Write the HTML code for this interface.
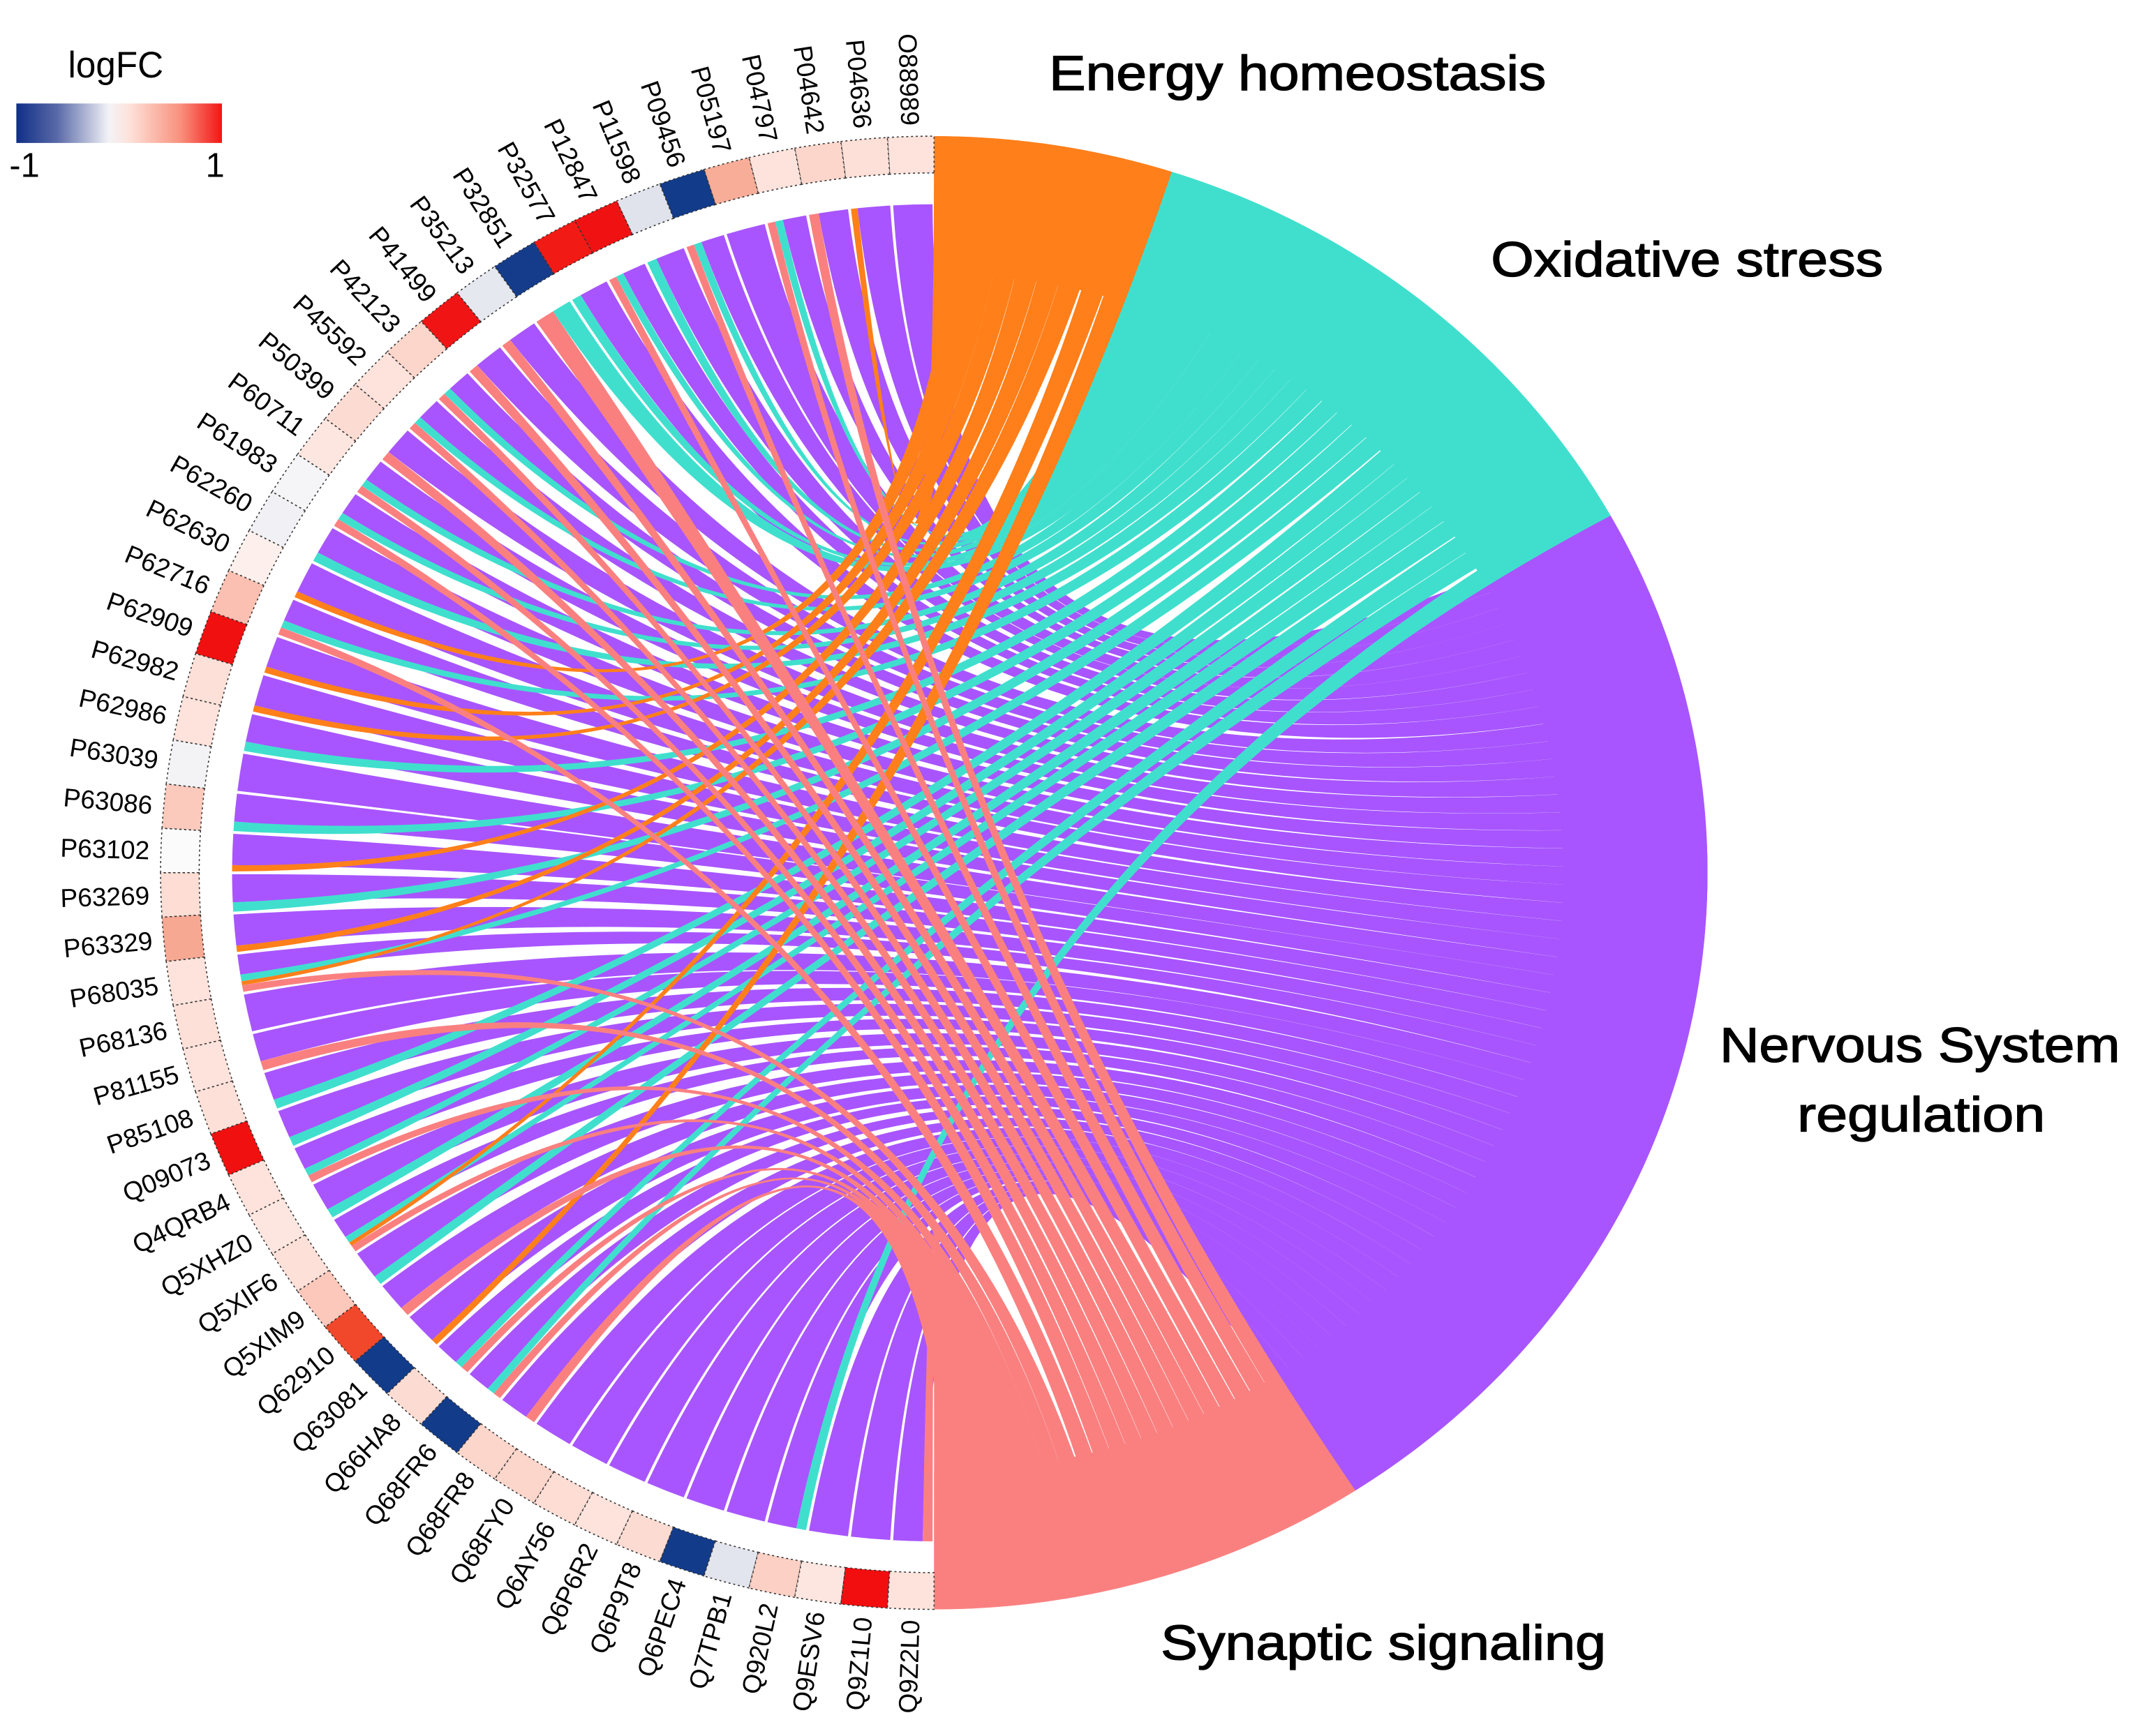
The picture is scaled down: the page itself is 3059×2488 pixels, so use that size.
<!DOCTYPE html>
<html><head><meta charset="utf-8"><style>
html,body{margin:0;padding:0;background:#fff;}
svg{display:block;}
text{font-family:"Liberation Sans",sans-serif;}
</style></head><body>
<svg id="s" xmlns="http://www.w3.org/2000/svg" width="3059" height="2488" viewBox="0 0 1568 1275" preserveAspectRatio="none">
<defs>
<linearGradient id="lg" x1="0" x2="1" y1="0" y2="0">
<stop offset="0" stop-color="#0f2f86"/>
<stop offset="0.2" stop-color="#5a6aa8"/>
<stop offset="0.45" stop-color="#f3f3f7"/>
<stop offset="0.55" stop-color="#fde2da"/>
<stop offset="0.8" stop-color="#f8907c"/>
<stop offset="1" stop-color="#f31515"/>
</linearGradient>
</defs>
<g id="chords"></g>
<g id="boxes"></g>
<g id="labels"></g>
<text x="85" y="57" font-size="27" text-anchor="middle" textLength="70" lengthAdjust="spacingAndGlyphs">logFC</text>
<rect x="12" y="76" width="151" height="29" fill="url(#lg)"/>
<text x="18" y="130" font-size="25" text-anchor="middle">-1</text>
<text x="158" y="130" font-size="25" text-anchor="middle">1</text>
<g font-size="36" stroke="#000" stroke-width="0.7" fill="#000">
<text x="953" y="66" text-anchor="middle" textLength="365" lengthAdjust="spacingAndGlyphs">Energy homeostasis</text>
<text x="1239" y="203" text-anchor="middle" textLength="288" lengthAdjust="spacingAndGlyphs">Oxidative stress</text>
<text x="1410" y="780" text-anchor="middle" textLength="294" lengthAdjust="spacingAndGlyphs">Nervous System</text>
<text x="1411" y="831" text-anchor="middle" textLength="182" lengthAdjust="spacingAndGlyphs">regulation</text>
<text x="1016" y="1219" text-anchor="middle" textLength="327" lengthAdjust="spacingAndGlyphs">Synaptic signaling</text>
</g>
</svg>
<script>
(function(){
var NS="http://www.w3.org/2000/svg";
var cx=686,cy=641,sx=1.05;
var rL=491,R=541,b0=514,b1=541,rT=549;
function pt(th,r){var a=th*Math.PI/180;return [cx+sx*r*Math.sin(a),cy-r*Math.cos(a)];}
function f(p){return p[0].toFixed(2)+" "+p[1].toFixed(2);}
function arc(r,ta,tb){var p=pt(tb,r);var lg=Math.abs(tb-ta)>180?1:0;var sw=tb>ta?1:0;return "A "+(r*sx).toFixed(2)+" "+r+" 0 "+lg+" "+sw+" "+f(p);}
var genes=[["O88989","#fde3dc"],["P04636","#fde0d8"],["P04642","#fcd6cb"],["P04797","#fde3dc"],["P05197","#f7ad98"],["P09456","#123b8a"],["P11598","#e1e3ec"],["P12847","#f01212"],["P32577","#f21a14"],["P32851","#143c8a"],["P35213","#e6e8ef"],["P41499","#f01414"],["P42123","#fcd6cb"],["P45592","#fde3dc"],["P50399","#fcdcd2"],["P60711","#fde6e0"],["P61983","#f5f5f7"],["P62260","#f1f1f5"],["P62630","#fdf0ec"],["P62716","#fbc0b1"],["P62909","#f01010"],["P62982","#fde0d8"],["P62986","#fde3dc"],["P63039","#f3f3f6"],["P63086","#fbcabd"],["P63102","#fbfbfc"],["P63269","#fdddd4"],["P63329","#f7a893"],["P68035","#fde3dc"],["P68136","#fde0d8"],["P81155","#fde3dc"],["P85108","#fde0d8"],["Q09073","#f01010"],["Q4QRB4","#fde3dc"],["Q5XHZ0","#fde6e0"],["Q5XIF6","#fde0d8"],["Q5XIM9","#fbc8bb"],["Q62910","#f1482c"],["Q63081","#123b8a"],["Q66HA8","#fcdcd2"],["Q68FR6","#123b8a"],["Q68FR8","#fcd6cb"],["Q68FY0","#fcd6cb"],["Q6AY56","#fdddd4"],["Q6P6R2","#fde3dc"],["Q6P9T8","#fcdcd2"],["Q6PEC4","#123b8a"],["Q7TPB1","#e3e5ee"],["Q920L2","#fcd0c4"],["Q9ESV6","#fde6e0"],["Q9Z1L0","#f20e0e"],["Q9Z2L0","#fde3dc"]];
var n=genes.length,step=180/n;
var terms=[{c:"#a855ff",t0:61,t1:147,w:3},{c:"#40dfcd",t0:17.9,t1:61,w:1},{c:"#ff7f1a",t0:0,t1:17.9,w:0.6},{c:"#fa8080",t0:147,t1:180,w:1}];
function prob(k,i){var u=i/n;
 if(k==0)return 0.97;
 if(k==1)return u<0.72?0.6:0.15;
 if(k==2)return u<0.75?0.25:0.08;
 return u<0.8?0.42:0.12;}
var seed=12345;function rnd(){seed=(seed*1103515245+12345)%2147483648;return seed/2147483648;}
var mem=[];
for(var i=0;i<n;i++){var m=[];for(var k=0;k<4;k++){if(rnd()<prob(k,i))m.push(k);}if(m.length==0)m.push(0);mem.push(m);}
mem[0]=[0];mem[n-1]=[0,3];
var cnt=[0,0,0,0];mem.forEach(function(m){m.forEach(function(k){cnt[k]++;});});
var used=[0,0,0,0];
var ribbons=[[],[],[],[]];
for(var i=0;i<n;i++){
 var g0=-(i*step)-0.12,g1=-((i+1)*step)+0.12;
 var m=mem[i],tw=0;m.forEach(function(k){tw+=terms[k].w;});
 var cur=g0;
 m.forEach(function(k){
  var T=terms[k],w=(g0-g1)*T.w/tw;
  var a=cur,b=cur-w;cur=b;
  var sw=(T.t1-T.t0)/cnt[k];
  var ts=T.t0+used[k]*sw,te=ts+sw;used[k]++;
  var d="M "+f(pt(a,rL))+" "+arc(rL,a,b)+" Q "+cx+" "+cy+" "+f(pt(te,R))+" "+arc(R,te,ts)+" Q "+cx+" "+cy+" "+f(pt(a,rL))+" Z";
  ribbons[k].push(d);
 });
}
var cg=document.getElementById("chords");
for(var k=0;k<4;k++){
 var T=terms[k];
 var sec=document.createElementNS(NS,"path");
 sec.setAttribute("d","M "+f(pt(T.t0,440))+" "+arc(440,T.t0,T.t1)+" L "+f(pt(T.t1,R))+" "+arc(R,T.t1,T.t0)+" Z");
 sec.setAttribute("fill",T.c);cg.appendChild(sec);
}
for(var k=0;k<4;k++){ribbons[k].forEach(function(d){var p=document.createElementNS(NS,"path");p.setAttribute("d",d);p.setAttribute("fill",terms[k].c);cg.appendChild(p);});}
var bg=document.getElementById("boxes"),lg=document.getElementById("labels");
for(var i=0;i<n;i++){
 var a=-(i*step),b=-((i+1)*step);
 var p=document.createElementNS(NS,"path");
 p.setAttribute("d","M "+f(pt(a,b0))+" "+arc(b0,a,b)+" L "+f(pt(b,b1))+" "+arc(b1,b,a)+" Z");
 p.setAttribute("fill",genes[i][1]);p.setAttribute("stroke","#333");p.setAttribute("stroke-width","0.8");p.setAttribute("stroke-dasharray","1.5 2");
 bg.appendChild(p);
 var m=(a+b)/2,q=pt(m,rT);
 var phi=90-m;
 var rot=180-phi;
 var t=document.createElementNS(NS,"text");
 t.setAttribute("x",q[0].toFixed(2));t.setAttribute("y",q[1].toFixed(2));
 t.setAttribute("font-size","19");t.setAttribute("text-anchor","end");t.setAttribute("dominant-baseline","central");
 t.setAttribute("transform","rotate("+rot.toFixed(2)+" "+q[0].toFixed(2)+" "+q[1].toFixed(2)+")");
 t.textContent=genes[i][0];lg.appendChild(t);
}
})();
</script>
</body></html>
